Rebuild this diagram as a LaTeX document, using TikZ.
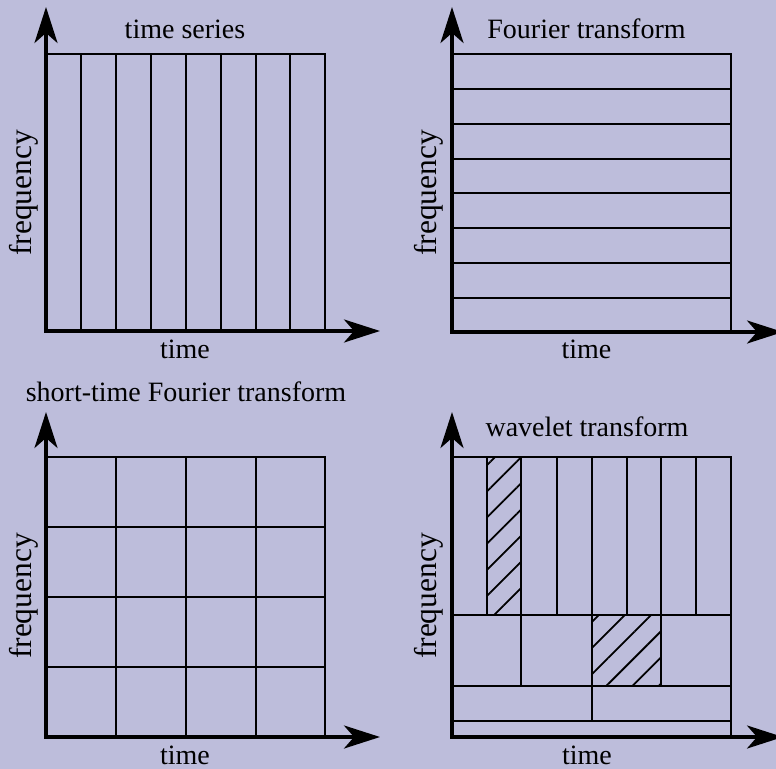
\documentclass[tikz,border=0pt]{standalone}
\usepackage{fontspec}
\setmainfont{Liberation Serif}
\usetikzlibrary{arrows.meta,patterns.meta}
\definecolor{bg}{RGB}{189,189,219}
\begin{document}
\begin{tikzpicture}[x=1bp,y=-1bp,
  gridline/.style={line width=2.8bp, line join=miter},
  axes/.style={line width=3.2bp, line join=miter,
    {Stealth[length=36bp,width=23bp,inset=10bp]}-{Stealth[length=36bp,width=23bp,inset=10bp]}},
  lbl/.style={font=\fontsize{28bp}{32bp}\selectfont, inner sep=0pt, anchor=base},
  flbl/.style={font=\fontsize{31.5bp}{34bp}\selectfont, inner sep=0pt, anchor=base, rotate=90},
  hatch/.style={pattern={Lines[angle=45,distance=18.5bp,line width=1.8bp]}}
]
\fill[bg] (0,0) rectangle (776,769);
\useasboundingbox (0,0) rectangle (776,769);

% ---------- top-left: time series
\draw[gridline] (46,54) -- (325,54) -- (325,331);
\foreach \x in {81,116,151,186,221,256,290} \draw[gridline] (\x,54) -- (\x,331);
\draw[axes] (46,7) -- (46,331) -- (380,331);
\node[lbl] (tltitle) at (185,39) {time series};
\node[lbl] (tltime) at (185,358) {time};
\node[flbl] (tlfreq) at (31.7,193) {frequency};

% ---------- top-right: Fourier transform
\draw[gridline] (452,54) -- (731,54) -- (731,332);
\foreach \y in {89,124,159,193,228,263,298} \draw[gridline] (452,\y) -- (731,\y);
\draw[axes] (452,7) -- (452,332) -- (783,332);
\node[lbl] (trtitle) at (586.5,39) {Fourier transform};
\node[lbl] (trtime) at (586.5,358) {time};
\node[flbl] (trfreq) at (436.7,193) {frequency};

% ---------- bottom-left: short-time Fourier transform
\draw[gridline] (46,457) -- (325,457) -- (325,737);
\foreach \x in {116,186,256} \draw[gridline] (\x,457) -- (\x,737);
\foreach \y in {527,597,667} \draw[gridline] (46,\y) -- (325,\y);
\draw[axes] (46,412) -- (46,737) -- (380,737);
\node[lbl] (bltitle) at (186,401.5) {short-time Fourier transform};
\node[lbl] (bltime) at (185,764) {time};
\node[flbl] (blfreq) at (31.7,596) {frequency};

% ---------- bottom-right: wavelet transform
\fill[hatch] (487,457) rectangle (521,615);
\fill[hatch] (592,615) rectangle (661,686);
\draw[gridline] (452,457) -- (731,457) -- (731,737);
\foreach \x in {487,521,557,592,627,661,696} \draw[gridline] (\x,457) -- (\x,615);
\foreach \x in {521,592,661} \draw[gridline] (\x,615) -- (\x,686);
\draw[gridline] (592,686) -- (592,721);
\foreach \y in {615,686,721} \draw[gridline] (452,\y) -- (731,\y);
\draw[axes] (452,412) -- (452,737) -- (783,737);
\node[lbl] (brtitle) at (587,436.7) {wavelet transform};
\node[lbl] (brtime) at (587,764) {time};
\node[flbl] (brfreq) at (436.7,596) {frequency};
\end{tikzpicture}
\end{document}
